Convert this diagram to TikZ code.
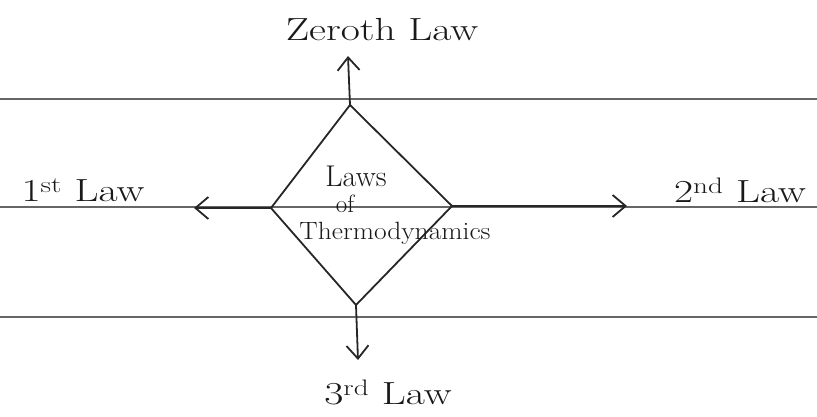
\documentclass[tikz,border=0pt]{standalone}
\usetikzlibrary{arrows.meta}
\newcommand{\wide}[2]{\scalebox{#1}[1]{#2}}
\begin{document}
\begin{tikzpicture}[x=1pt,y=-1pt,
  rule/.style={draw=black!60,line width=1.6pt},
  edge/.style={draw=black!85,line width=1.8pt,line join=round},
  arr/.style={draw=black!85,line width=1.8pt,-{Straight Barb[length=13pt,width=22pt,line width=1.8pt]}},
  lab/.style={font=\fontsize{32}{36}\selectfont,text=black!90,inner sep=0pt},
  inlab/.style={font=\fontsize{25}{28}\selectfont,text=black!90,inner sep=0pt}]
\useasboundingbox (0,0) rectangle (817,417);
% ruled lines
\coordinate (l1a) at (0,99); \coordinate (l1b) at (817,99);
\coordinate (l2a) at (0,207); \coordinate (l2b) at (817,207);
\coordinate (l3a) at (0,317); \coordinate (l3b) at (817,317);
\draw[rule] (l1a) -- (l1b);
\draw[rule] (l2a) -- (l2b);
\draw[rule] (l3a) -- (l3b);
% diamond
\coordinate (top) at (350,105);
\coordinate (left) at (271,208);
\coordinate (right) at (452,206);
\coordinate (bottom) at (356,305);
\draw[edge] (top) -- (right) -- (bottom) -- (left) -- cycle;
\node[inlab,font=\fontsize{30}{32}\selectfont] (t1) at (356,176) {Laws};
\node[inlab] (t2) at (345,204) {of};
\node[inlab] (t3) at (395,233) {\wide{1.1}{Thermodynamics}};
% arrow ends
\coordinate (upend) at (348,56);
\coordinate (leftend) at (194,208);
\coordinate (rightend) at (627,206);
\coordinate (downend) at (358,360);
\draw[arr] (top) -- (upend);
\draw[arr] (left) -- (leftend);
\draw[arr] (right) -- (rightend);
\draw[arr] (bottom) -- (downend);
% labels
\node[lab] (zeroth) at (382,30) {\wide{1.3}{Zeroth Law}};
\node[lab] (first) at (83,190) {\wide{1.3}{1\textsuperscript{st} Law}};
\node[lab] (second) at (740,190) {\wide{1.3}{2\textsuperscript{nd} Law}};
\node[lab] (third) at (388,392) {\wide{1.3}{3\textsuperscript{rd} Law}};
\end{tikzpicture}
\end{document}
